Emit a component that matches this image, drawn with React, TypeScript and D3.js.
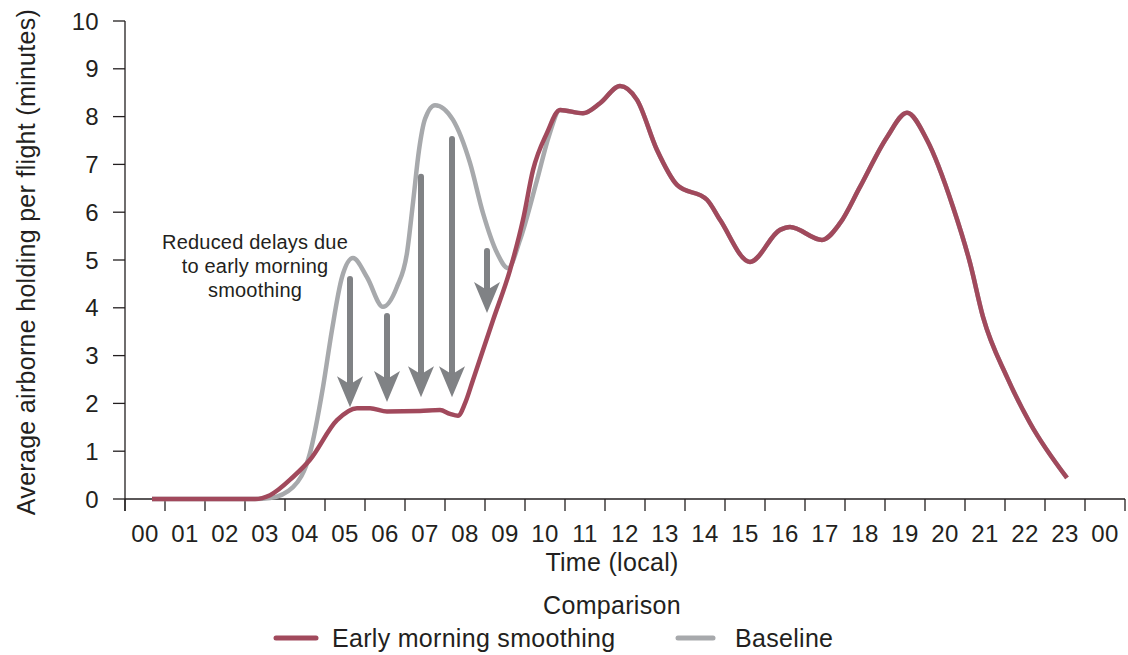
import { curveMonotoneX, line, range, scaleLinear } from 'd3'

const WIDTH = 1128
const HEIGHT = 655
const FONT = '"Liberation Sans", Arial, sans-serif'
const INK = '#231f20'
const RED = '#a1495c'
const GREY = '#a7a9ac'
const ARROW = '#808285'

const hourLabels = ['00', '01', '02', '03', '04', '05', '06', '07', '08', '09', '10', '11', '12',
  '13', '14', '15', '16', '17', '18', '19', '20', '21', '22', '23', '00']
const yTicks = [0, 1, 2, 3, 4, 5, 6, 7, 8, 9, 10]

// early morning smoothing, hours after 00:00 vs minutes
const smoothingHours = [0.675, 3.25, 3.625, 4.2, 4.625, 5.3, 5.8, 6.125, 6.55, 7.375, 7.875, 8.125, 8.325,
  8.5, 8.7, 9.2, 9.625, 9.95, 10.2, 10.55, 10.875, 11.45, 11.875, 12.375, 12.8, 13.3, 13.8, 14.55,
  14.875, 15.625, 16.375, 16.625, 17.425, 17.875, 18.375, 19.05, 19.55, 20.05, 20.7, 21.125, 21.45,
  22.05, 22.625, 23.55]
const smoothingValues = [0, 0, 0.08, 0.46, 0.82, 1.65, 1.9, 1.9, 1.83, 1.84, 1.86, 1.78, 1.74,
  2.0, 2.49, 3.74, 4.79, 5.84, 6.88, 7.66, 8.14, 8.07, 8.28, 8.64, 8.35, 7.3, 6.57, 6.26,
  5.84, 4.96, 5.63, 5.69, 5.42, 5.77, 6.53, 7.57, 8.08, 7.51, 6.11, 4.94, 3.81,
  2.55, 1.59, 0.44]

// baseline up to where it joins the smoothing line
const baselineHours = [0.675, 3.25, 3.625, 4.2, 4.625, 4.95, 5.175, 5.425, 5.7, 6.05, 6.45, 6.8, 7.05,
  7.2, 7.35, 7.5, 7.75, 8.2, 8.625, 8.95, 9.3, 9.575, 9.875, 10.3, 10.6]
const baselineValues = [0, 0, 0.02, 0.25, 0.96, 2.34, 3.54, 4.64, 5.04, 4.64, 4.02, 4.44, 5.15,
  6.2, 7.3, 7.95, 8.24, 7.93, 7.03, 5.98, 5.15, 4.83, 5.42, 6.67, 7.6]

const arrowHours = [5.625, 6.55, 7.4, 8.175, 9.05]
const arrowFrom = [4.6, 3.83, 6.74, 7.53, 5.19]
const arrowTo = [1.92, 2.03, 2.13, 2.13, 3.89]

const annotation = ['Reduced delays due', 'to early morning', 'smoothing']

type Pt = { t: number; v: number }

export default function App() {
  const x = scaleLinear().domain([0, 25]).range([125, 1125])
  const y = scaleLinear().domain([0, 10]).range([499, 21])

  const smoothing: Pt[] = smoothingHours.map((t, i) => ({ t, v: smoothingValues[i] }))
  const baseline: Pt[] = baselineHours
    .map((t, i) => ({ t, v: baselineValues[i] }))
    .concat(smoothing.filter((d) => d.t > 10.7))

  const path = line<Pt>()
    .x((d) => x(d.t))
    .y((d) => y(d.v))
    .curve(curveMonotoneX)

  return (
    <svg
      width={WIDTH}
      height={HEIGHT}
      style={{ position: 'absolute', left: 0, top: 0, background: '#fff' }}
      fontFamily={FONT}
      fill={INK}
      letterSpacing={0.3}
    >
      {/* y axis */}
      <line x1={x(0)} x2={x(0)} y1={y(10)} y2={y(0) + 12} stroke={INK} strokeWidth={1.3} />
      {yTicks.map((v) => (
        <g key={v}>
          <line x1={x(0) - 12} x2={x(0)} y1={y(v)} y2={y(v)} stroke={INK} strokeWidth={1.3} />
          <text x={99} y={y(v)} dy="0.36em" textAnchor="end" fontSize={24}>
            {v}
          </text>
        </g>
      ))}
      <text transform={`translate(35,${(y(0) + y(10)) / 2 + 2}) rotate(-90)`} textAnchor="middle" fontSize={25}>
        Average airborne holding per flight (minutes)
      </text>

      {/* x axis */}
      <line x1={x(0)} x2={x(25)} y1={y(0)} y2={y(0)} stroke={INK} strokeWidth={1.3} />
      {range(0, 26).map((h) => (
        <line key={h} x1={x(h)} x2={x(h)} y1={y(0)} y2={y(0) + 12} stroke={INK} strokeWidth={1.3} />
      ))}
      {hourLabels.map((lab, i) => (
        <text key={i} x={x(i + 0.5)} y={542} textAnchor="middle" fontSize={24}>
          {lab}
        </text>
      ))}
      <text x={612} y={571} textAnchor="middle" fontSize={25}>
        Time (local)
      </text>

      {/* series */}
      <path d={path(baseline) ?? ''} fill="none" stroke={GREY} strokeWidth={4.5} strokeLinejoin="round" />
      <path d={path(smoothing) ?? ''} fill="none" stroke={RED} strokeWidth={4.5} strokeLinejoin="round" />

      {/* arrows */}
      {arrowHours.map((t, i) => {
        const cx = x(t)
        const top = y(arrowFrom[i])
        const tip = y(arrowTo[i])
        return (
          <g key={i} fill={ARROW}>
            <line x1={cx} x2={cx} y1={top} y2={tip - 20} stroke={ARROW} strokeWidth={6} strokeLinecap="round" />
            <path d={`M${cx},${tip} L${cx - 13},${tip - 31} L${cx},${tip - 23} L${cx + 13},${tip - 31} Z`} />
          </g>
        )
      })}

      {/* annotation */}
      {annotation.map((s, i) => (
        <text key={i} x={255} y={249 + i * 24} textAnchor="middle" fontSize={20} letterSpacing={0.2}>
          {s}
        </text>
      ))}

      {/* legend */}
      <text x={612} y={614} textAnchor="middle" fontSize={25}>
        Comparison
      </text>
      <line x1={276} x2={316} y1={638} y2={638} stroke={RED} strokeWidth={5} strokeLinecap="round" />
      <text x={332} y={647} fontSize={25}>
        Early morning smoothing
      </text>
      <line x1={678} x2={713} y1={638} y2={638} stroke={GREY} strokeWidth={5} strokeLinecap="round" />
      <text x={735} y={647} fontSize={25}>
        Baseline
      </text>
    </svg>
  )
}
